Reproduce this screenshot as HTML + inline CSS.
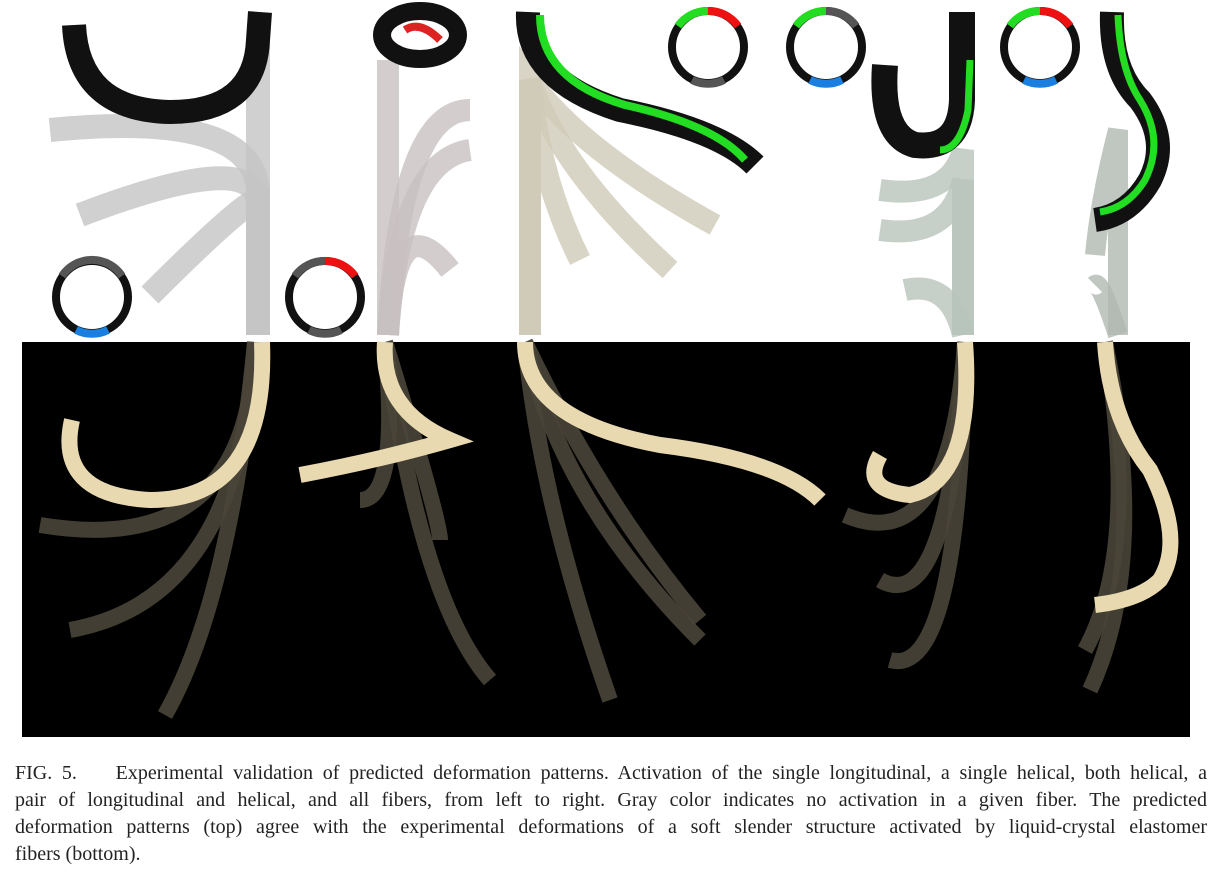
<!DOCTYPE html>
<html><head><meta charset="utf-8"><style>
html,body{margin:0;padding:0;background:#fff;width:1221px;height:875px;overflow:hidden}
.cap{position:absolute;left:15px;top:760px;width:1192px;font-family:"Liberation Serif",serif;font-size:20px;line-height:27px;color:#222}
.ln{text-align:justify;text-align-last:justify;white-space:nowrap}
.ln.last{text-align-last:left}
</style></head><body>
<svg width="1221" height="745" style="position:absolute;left:0;top:0" xmlns="http://www.w3.org/2000/svg">
<g fill="none" stroke-linecap="butt">
 <g stroke="#c4c4c4" stroke-opacity="0.8" stroke-width="24">
  <path d="M258,335 L258,190 Q252,110 50,130"/>
  <path d="M258,335 L258,200 Q250,150 80,215"/>
  <path d="M258,335 L258,200 Q245,200 150,295"/>
  <path d="M258,335 L258,40"/>
 </g>
 <path d="M260,12 L258,40 Q255,112 170,112 Q78,110 74,25" stroke="#111" stroke-width="24" fill="none"/>
 <g stroke="#c8c0c0" stroke-opacity="0.8" stroke-width="22">
  <path d="M388,335 L388,60"/>
  <path d="M388,335 Q395,200 450,270"/>
  <path d="M388,335 Q400,160 470,150"/>
  <path d="M388,335 Q400,110 470,110"/>
 </g>
 <ellipse cx="420" cy="35" rx="38" ry="24" stroke="#111" stroke-width="18"/>
 <path d="M405,30 Q420,20 440,40" stroke="#d22" stroke-width="8"/>
 <g stroke="#cfcbb8" stroke-opacity="0.8" stroke-width="22">
  <path d="M530,335 L530,80 Q540,180 580,260"/>
  <path d="M530,335 L530,80 Q560,170 670,270"/>
  <path d="M530,335 L530,80 Q580,150 715,225"/>
  <path d="M530,335 L530,90"/>
 </g>
 <path d="M528,12 Q525,80 620,110 Q720,130 755,165" stroke="#111" stroke-width="24"/>
 <path d="M540,15 Q540,80 625,105 Q715,125 745,160" stroke="#2d2" stroke-width="8"/>
 <g stroke="#b8c4bc" stroke-opacity="0.8" stroke-width="22">
  <path d="M963,335 L963,150 Q950,200 880,190"/>
  <path d="M963,335 L963,180 Q950,240 880,230"/>
  <path d="M963,335 Q950,280 905,290"/>
 </g>
 <path d="M962,12 L962,100 Q960,150 915,145 Q880,135 885,65" stroke="#111" stroke-width="26"/>
 <path d="M970,60 L968,110 Q960,150 940,150" stroke="#2d2" stroke-width="7"/>
 <g stroke="#b0b8b0" stroke-opacity="0.8" stroke-width="20">
  <path d="M1118,335 L1118,130 Q1100,200 1095,255"/>
  <path d="M1118,335 Q1100,280 1095,285"/>
 </g>
 <path d="M1112,12 Q1110,70 1140,100 Q1170,140 1150,180 Q1130,215 1095,220" stroke="#111" stroke-width="24"/>
 <path d="M1118,15 Q1120,70 1140,100 Q1165,140 1145,180 Q1128,208 1100,212" stroke="#2d2" stroke-width="7"/>
 <g stroke-width="8">
  <circle cx="92" cy="297" r="36" stroke="#111"/>
  <path d="M62,276 A36,36 0 0 1 122,276" stroke="#555"/>
  <path d="M76,330 A36,36 0 0 0 108,330" stroke="#1a7fe0"/>
 </g>
 <g stroke-width="8">
  <circle cx="325" cy="297" r="36" stroke="#111"/>
  <path d="M295,276 A36,36 0 0 1 325,261" stroke="#555"/>
  <path d="M325,261 A36,36 0 0 1 355,276" stroke="#e11"/>
  <path d="M309,330 A36,36 0 0 0 341,330" stroke="#555"/>
 </g>
 <g stroke-width="8">
  <circle cx="708" cy="47" r="36" stroke="#111"/>
  <path d="M678,26 A36,36 0 0 1 708,11" stroke="#2d2"/>
  <path d="M708,11 A36,36 0 0 1 738,26" stroke="#e11"/>
  <path d="M692,80 A36,36 0 0 0 724,80" stroke="#555"/>
 </g>
 <g stroke-width="8">
  <circle cx="826" cy="47" r="36" stroke="#111"/>
  <path d="M796,26 A36,36 0 0 1 826,11" stroke="#2d2"/>
  <path d="M826,11 A36,36 0 0 1 856,26" stroke="#555"/>
  <path d="M810,80 A36,36 0 0 0 842,80" stroke="#1a7fe0"/>
 </g>
 <g stroke-width="8">
  <circle cx="1040" cy="47" r="36" stroke="#111"/>
  <path d="M1010,26 A36,36 0 0 1 1040,11" stroke="#2d2"/>
  <path d="M1040,11 A36,36 0 0 1 1070,26" stroke="#e11"/>
  <path d="M1024,80 A36,36 0 0 0 1056,80" stroke="#1a7fe0"/>
 </g>
</g>
<g>
 <rect x="22" y="342" width="1168" height="395" fill="#000"/>
 <g fill="none" stroke="#4a4538" stroke-width="16" stroke-opacity="0.9">
  <path d="M255,342 Q250,560 40,525"/>
  <path d="M255,342 Q240,600 70,630"/>
  <path d="M255,342 Q230,600 165,715"/>
  <path d="M385,342 Q400,500 360,500"/>
  <path d="M385,342 Q420,600 490,680"/>
  <path d="M385,342 Q440,520 440,540"/>
  <path d="M525,342 Q560,500 700,640"/>
  <path d="M525,342 Q540,500 610,700"/>
  <path d="M525,342 Q600,500 700,620"/>
  <path d="M965,342 Q950,560 845,515"/>
  <path d="M965,342 Q950,620 880,580"/>
  <path d="M965,342 Q960,680 890,660"/>
  <path d="M1105,342 Q1140,550 1085,650"/>
  <path d="M1105,342 Q1150,560 1090,690"/>
 </g>
 <g fill="none" stroke="#e8d9b0" stroke-width="16">
  <path d="M262,342 Q268,500 150,500 Q55,495 72,420"/>
  <path d="M385,342 Q380,410 450,440 Q380,460 300,475"/>
  <path d="M525,342 Q525,420 660,445 Q780,460 820,500"/>
  <path d="M965,342 Q975,480 910,495 Q860,490 880,455"/>
  <path d="M1105,342 Q1110,420 1150,470 Q1185,540 1160,580 Q1140,600 1095,605"/>
 </g>
</g>
</svg>
<div class="cap">
<div class="ln">FIG. 5.&nbsp;&nbsp;&nbsp; Experimental validation of predicted deformation patterns. Activation of the single longitudinal, a single helical, both helical, a</div>
<div class="ln">pair of longitudinal and helical, and all fibers, from left to right. Gray color indicates no activation in a given fiber. The predicted</div>
<div class="ln">deformation patterns (top) agree with the experimental deformations of a soft slender structure activated by liquid-crystal elastomer</div>
<div class="ln last">fibers (bottom).</div>
</div>
</body></html>
